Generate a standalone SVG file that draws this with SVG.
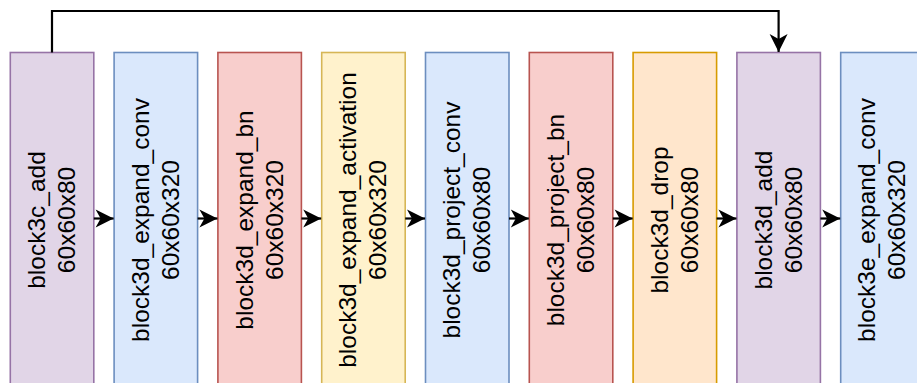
<svg xmlns="http://www.w3.org/2000/svg" width="917" height="383" viewBox="0 0 917 383">
  <style>
    .box { stroke-width: 1.6; }
    .purple { fill: #e1d5e7; stroke: #9673a6; }
    .blue { fill: #dae8fc; stroke: #6c8ebf; }
    .red { fill: #f8cecc; stroke: #b85450; }
    .yellow { fill: #fff2cc; stroke: #d6b656; }
    .orange { fill: #ffe6cc; stroke: #d79b00; }
    .label { font-family: "Liberation Sans", Arial, sans-serif; font-size: 24.5px; fill: #000; text-anchor: middle; }
    .edge { fill: none; stroke: #000; stroke-width: 2.2; }
  </style>
  <defs>
    <marker id="arrow" markerUnits="userSpaceOnUse" viewBox="-19 -10 20 20" refX="0" refY="0" markerWidth="20" markerHeight="20" orient="auto">
      <path d="M0,0 L-18,-9 L-13,0 L-18,9 Z" fill="#000"/>
    </marker>
  </defs>

  <!-- layer nodes -->
  <g id="block3c_add">
    <rect class="box purple" x="10.3" y="52.5" width="83.5" height="340"/>
    <text class="label" transform="translate(52,220) rotate(-90)"><tspan x="0" y="-7">block3c_add</tspan><tspan x="0" y="23">60x60x80</tspan></text>
  </g>
  <g id="block3d_expand_conv">
    <rect class="box blue" x="114.1" y="52.5" width="83.5" height="340"/>
    <text class="label" transform="translate(155.8,220) rotate(-90)"><tspan x="0" y="-7">block3d_expand_conv</tspan><tspan x="0" y="23">60x60x320</tspan></text>
  </g>
  <g id="block3d_expand_bn">
    <rect class="box red" x="217.9" y="52.5" width="83.5" height="340"/>
    <text class="label" transform="translate(259.6,220) rotate(-90)"><tspan x="0" y="-7">block3d_expand_bn</tspan><tspan x="0" y="23">60x60x320</tspan></text>
  </g>
  <g id="block3d_expand_activation">
    <rect class="box yellow" x="321.7" y="52.5" width="83.5" height="340"/>
    <text class="label" transform="translate(363.4,220) rotate(-90)"><tspan x="0" y="-7">block3d_expand_activation</tspan><tspan x="0" y="23">60x60x320</tspan></text>
  </g>
  <g id="block3d_project_conv">
    <rect class="box blue" x="425.5" y="52.5" width="83.5" height="340"/>
    <text class="label" transform="translate(467.2,220) rotate(-90)"><tspan x="0" y="-7">block3d_project_conv</tspan><tspan x="0" y="23">60x60x80</tspan></text>
  </g>
  <g id="block3d_project_bn">
    <rect class="box red" x="529.3" y="52.5" width="83.5" height="340"/>
    <text class="label" transform="translate(571,220) rotate(-90)"><tspan x="0" y="-7">block3d_project_bn</tspan><tspan x="0" y="23">60x60x80</tspan></text>
  </g>
  <g id="block3d_drop">
    <rect class="box orange" x="633.1" y="52.5" width="83.5" height="340"/>
    <text class="label" transform="translate(674.8,220) rotate(-90)"><tspan x="0" y="-7">block3d_drop</tspan><tspan x="0" y="23">60x60x80</tspan></text>
  </g>
  <g id="block3d_add">
    <rect class="box purple" x="736.9" y="52.5" width="83.5" height="340"/>
    <text class="label" transform="translate(778.6,220) rotate(-90)"><tspan x="0" y="-7">block3d_add</tspan><tspan x="0" y="23">60x60x80</tspan></text>
  </g>
  <g id="block3e_expand_conv">
    <rect class="box blue" x="840.7" y="52.5" width="83.5" height="340"/>
    <text class="label" transform="translate(882.4,220) rotate(-90)"><tspan x="0" y="-7">block3e_expand_conv</tspan><tspan x="0" y="23">60x60x320</tspan></text>
  </g>

  <!-- connectors -->
  <g id="edges">
    <path class="edge" d="M93.8,218.5 H113.6" marker-end="url(#arrow)"/>
    <path class="edge" d="M197.6,218.5 H217.4" marker-end="url(#arrow)"/>
    <path class="edge" d="M301.4,218.5 H321.2" marker-end="url(#arrow)"/>
    <path class="edge" d="M405.2,218.5 H425" marker-end="url(#arrow)"/>
    <path class="edge" d="M509,218.5 H528.8" marker-end="url(#arrow)"/>
    <path class="edge" d="M612.8,218.5 H632.6" marker-end="url(#arrow)"/>
    <path class="edge" d="M716.6,218.5 H736.4" marker-end="url(#arrow)"/>
    <path class="edge" d="M820.4,218.5 H840.2" marker-end="url(#arrow)"/>
    <!-- residual skip connection -->
    <path class="edge" d="M52,52.5 V11 H778.6 V52" marker-end="url(#arrow)"/>
  </g>
</svg>
